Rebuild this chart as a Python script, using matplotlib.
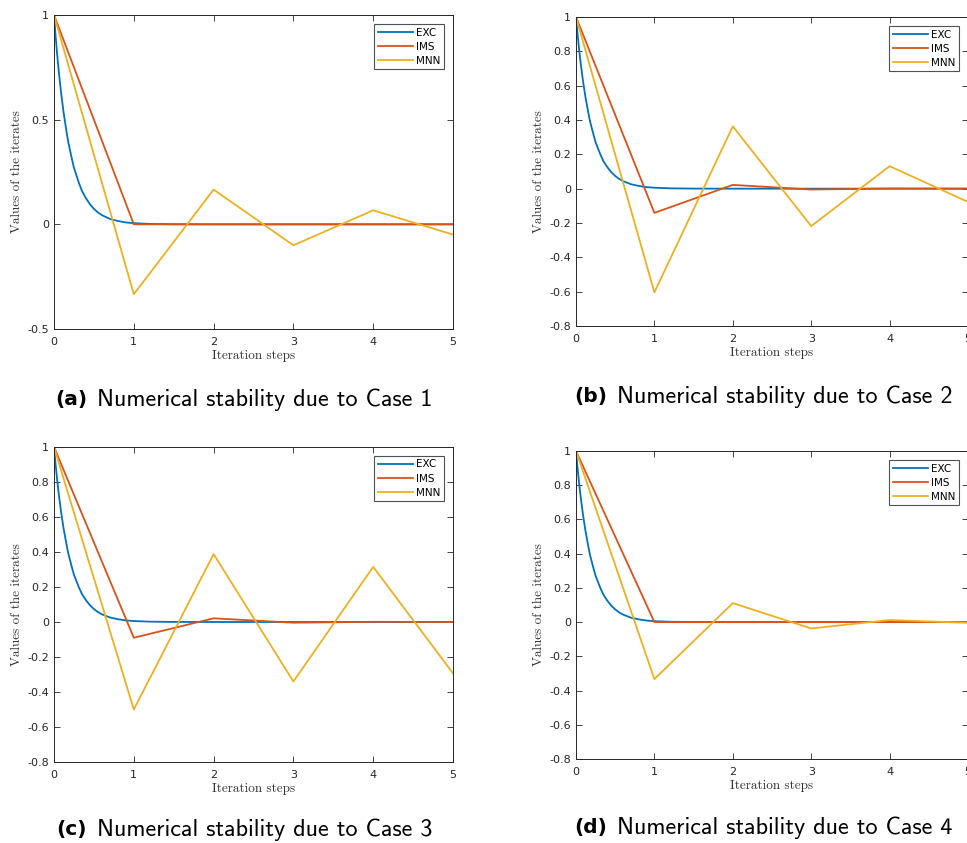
import numpy as np
import matplotlib.pyplot as plt

# exact solution
t_exc = [0, 0.01, 0.02, 0.03, 0.04, 0.05, 0.06, 0.07, 0.08, 0.09, 0.1, 0.12, 0.14,
         0.16, 0.18, 0.2, 0.22, 0.25, 0.28, 0.31, 0.35, 0.4, 0.45, 0.5, 0.55, 0.6,
         0.7, 0.8, 0.9, 1.0, 1.2, 1.5, 2, 5]
y_exc = [1, 0.95, 0.90, 0.855, 0.81, 0.77, 0.73, 0.695, 0.66, 0.625, 0.595, 0.535,
         0.485, 0.435, 0.39, 0.355, 0.32, 0.27, 0.235, 0.20, 0.16, 0.125, 0.096,
         0.074, 0.057, 0.044, 0.026, 0.016, 0.009, 0.0055, 0.002, 0.0004, 0, 0]

steps = [0, 1, 2, 3, 4, 5]
ims = {
    "a": [1, 0, 0, 0, 0, 0],
    "b": [1, -0.141, 0.022, -0.005, 0.001, 0],
    "c": [1, -0.09, 0.021, -0.004, 0.001, 0],
    "d": [1, 0, 0, 0, 0, 0],
}
mnn = {
    "a": [1, -0.334, 0.166, -0.10, 0.067, -0.049],
    "b": [1, -0.604, 0.363, -0.218, 0.131, -0.077],
    "c": [1, -0.50, 0.388, -0.34, 0.315, -0.293],
    "d": [1, -0.333, 0.111, -0.037, 0.012, -0.004],
}
captions = {
    "a": "Numerical stability due to Case 1",
    "b": "Numerical stability due to Case 2",
    "c": "Numerical stability due to Case 3",
    "d": "Numerical stability due to Case 4",
}

W, H = 967, 843
fig = plt.figure(figsize=(W / 100, H / 100), dpi=100)

# axes boxes in pixels: left, top, right, bottom
boxes = {
    "a": (54, 15, 453, 329),
    "b": (576, 17, 968, 326),
    "c": (54, 447, 453, 762),
    "d": (576, 451, 968, 759),
}
cap_pos = {"a": (87, 400), "b": (607, 397), "c": (87, 830), "d": (607, 828)}

grey = "#262626"
for key in ["a", "b", "c", "d"]:
    l, t, r, b = boxes[key]
    ax = fig.add_axes([l / W, 1 - b / H, (r - l) / W, (b - t) / H])
    ax.plot(t_exc, y_exc, color="#0072BD", lw=1.3, label="EXC")
    ax.plot(steps, ims[key], color="#D95319", lw=1.3, label="IMS")
    ax.plot(steps, mnn[key], color="#EDB120", lw=1.3, label="MNN")
    ax.set_xlim(0, 5)
    if key == "a":
        ax.set_ylim(-0.5, 1)
        ax.set_yticks([-0.5, 0, 0.5, 1])
        ax.set_yticklabels(["-0.5", "0", "0.5", "1"])
    else:
        ax.set_ylim(-0.8, 1)
        yt = np.round(np.arange(-0.8, 1.01, 0.2), 1)
        ax.set_yticks(yt)
        ax.set_yticklabels([f"{v:g}" if v != 0 else "0" for v in yt])
    ax.set_xticks(steps)
    ax.tick_params(direction="in", top=True, right=True, labelsize=8, colors=grey,
                   length=4, width=0.6)
    ax.tick_params(axis="x", pad=6)
    for s in ax.spines.values():
        s.set_color(grey)
        s.set_linewidth(0.7)
    ax.set_xlabel("Iteration steps", fontfamily="cmr10", fontsize=9.5, color="#333333",
                  labelpad=2)
    ax.set_ylabel("Values of the iterates", fontfamily="cmr10", fontsize=9.5,
                  color="#333333", labelpad=3)
    leg = ax.legend(loc="upper right", fontsize=7.5, handlelength=3.4, frameon=True,
                    fancybox=False, borderpad=0.3, labelspacing=0.4,
                    handletextpad=0.3, borderaxespad=0.9)
    leg.get_frame().set_edgecolor(grey)
    leg.get_frame().set_linewidth(0.8)

    cx, cy = cap_pos[key]
    fig.text(cx / W, 1 - cy / H, f"({key})", ha="right", va="center",
             fontsize=14.5, fontweight="bold", fontfamily="DejaVu Sans")
    fig.text((cx + 10) / W, 1 - cy / H, captions[key], ha="left", va="center",
             fontsize=17.4, fontfamily="cmss10")

fig.savefig("out.png", dpi=100)
